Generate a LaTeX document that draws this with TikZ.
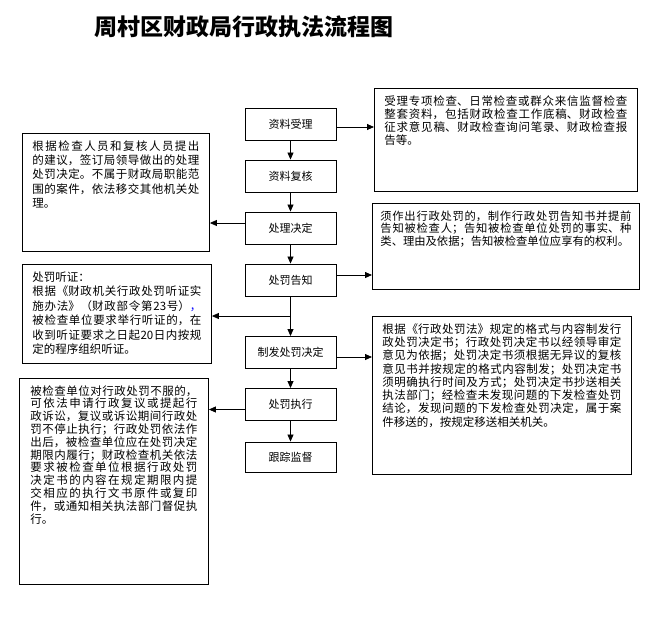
\documentclass[tikz,border=0pt]{standalone}
\usepackage{fontspec}
\setmainfont{Noto Sans CJK SC}
\usepackage{xcolor}
\usepackage{tikz}
\usetikzlibrary{arrows.meta, positioning}
\XeTeXlinebreaklocale "zh"
\XeTeXlinebreakskip=0pt plus 2pt

\begin{document}
\begin{tikzpicture}[
  x=1pt, y=-1pt,
  font=\fontsize{11}{13}\selectfont,
  stepbox/.style={draw, line width=0.9pt, minimum width=91pt, minimum height=32pt,
                  inner sep=0pt},
  notebox/.style={draw, line width=0.9pt, anchor=north west, inner xsep=10pt,
                  inner ysep=7pt, font=\fontsize{11.5}{13}\selectfont},
  arrow/.style={-{Triangle[length=7pt, width=6pt]}, line width=0.8pt},
]
\useasboundingbox (0,0) rectangle (652,618);

%% ── Title ────────────────────────────────────────────────────────────────
\node[font=\fontsize{23}{23}\selectfont\bfseries] (title) at (243.5,27)
  {周村区财政局行政执法流程图};

%% ── Main steps (centre column) ───────────────────────────────────────────
\node[stepbox] (acc) at (290.5,124)   {资料受理};
\node[stepbox] (rev) at (290.5,176)   {资料复核};
\node[stepbox] (dec) at (290.5,228)   {处理决定};
\node[stepbox] (ntf) at (290.5,280)   {处罚告知};
\node[stepbox] (iss) at (290.5,352.5) {制发处罚决定};
\node[stepbox] (exe) at (290.5,404.5) {处罚执行};
\node[stepbox, minimum height=30pt] (trk) at (290.5,457) {跟踪监督};

%% ── Notes on the right ───────────────────────────────────────────────────
\node[notebox] (racc) at (374,88) {\parbox[t][89pt][t]{243pt}{%
  受理专项检查、日常检查或群众来信监督检查\linebreak
  整套资料，包括财政检查工作底稿、财政检查\linebreak
  征求意见稿、财政检查询问笔录、财政检查报\linebreak
  告等。}};

\node[notebox, inner xsep=8pt, font=\fontsize{11.3}{12.8}\selectfont] (rntf) at (372,203)
  {\parbox[t][72pt][t]{251pt}{%
  须作出行政处罚的，制作行政处罚告知书并提前\linebreak
  告知被检查人；告知被检查单位处罚的事实、种\linebreak
  类、理由及依据；告知被检查单位应享有的权利。}};

\node[notebox, font=\fontsize{11.5}{13.3}\selectfont] (riss) at (372,316)
  {\parbox[t][144pt][t]{239pt}{%
  根据《行政处罚法》规定的格式与内容制发行\linebreak
  政处罚决定书；行政处罚决定书以经领导审定\linebreak
  意见为依据；处罚决定书须根据无异议的复核\linebreak
  意见书并按规定的格式内容制发；处罚决定书\linebreak
  须明确执行时间及方式；处罚决定书抄送相关\linebreak
  执法部门；经检查未发现问题的下发检查处罚\linebreak
  结论，发现问题的下发检查处罚决定，属于案\linebreak
  件移送的，按规定移送相关机关。}};

%% ── Notes on the left ────────────────────────────────────────────────────
\node[notebox, font=\fontsize{11.5}{14.3}\selectfont] (ldec) at (22,133)
  {\parbox[t][104pt][t]{167pt}{%
  根据检查人员和复核人员提出\linebreak
  的建议，签订局领导做出的处理\linebreak
  处罚决定。不属于财政局职能范\linebreak
  围的案件，依法移交其他机关处\linebreak
  理。}};

\node[notebox, font=\fontsize{11.5}{14.5}\selectfont] (lhear) at (22,264)
  {\parbox[t][85pt][t]{169pt}{%
  处罚听证：\newline
  根据《财政机关行政处罚听证实\linebreak
  施办法》（财政部令第23号）\textcolor{blue}{，}\linebreak
  被检查单位要求举行听证的，在\linebreak
  收到听证要求之日起20日内按规\linebreak
  定的程序组织听证。}};

\node[notebox, inner xsep=11pt, font=\fontsize{11.5}{12.8}\selectfont] (lexe) at (19,378)
  {\parbox[t][192pt][t]{167pt}{%
  被检查单位对行政处罚不服的，\linebreak
  可依法申请行政复议或提起行\linebreak
  政诉讼，复议或诉讼期间行政处\linebreak
  罚不停止执行；行政处罚依法作\linebreak
  出后，被检查单位应在处罚决定\linebreak
  期限内履行；财政检查机关依法\linebreak
  要求被检查单位根据行政处罚\linebreak
  决定书的内容在规定期限内提\linebreak
  交相应的执行文书原件或复印\linebreak
  件，或通知相关执法部门督促执\linebreak
  行。}};

%% ── Arrows ───────────────────────────────────────────────────────────────
\draw[arrow] (acc) -- (rev);
\draw[arrow] (rev) -- (dec);
\draw[arrow] (dec) -- (ntf);
\draw[arrow] (ntf) -- (iss);
\draw[arrow] (iss) -- (exe);
\draw[arrow] (exe) -- (trk);

\coordinate (hear) at (290.5,316);
\draw[arrow] (hear) -- (hear -| lhear.east);
\draw[arrow] ([yshift=5pt]dec.west)    -- ([yshift=5pt]dec.west -| ldec.east);
\draw[arrow] ([yshift=-5pt]exe.west)   -- ([yshift=-5pt]exe.west -| lexe.east);
\draw[arrow] ([yshift=-3pt]acc.east)   -- ([yshift=-3pt]acc.east -| racc.west);
\draw[arrow] ([yshift=5pt]ntf.east)    -- ([yshift=5pt]ntf.east -| rntf.west);
\draw[arrow] ([yshift=-4.5pt]iss.east) -- ([yshift=-4.5pt]iss.east -| riss.west);

\end{tikzpicture}
\end{document}
